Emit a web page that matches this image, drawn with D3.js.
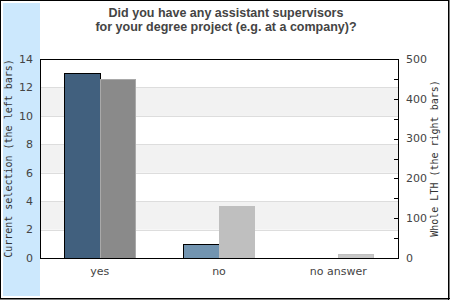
<!DOCTYPE html>
<html>
<head>
<meta charset="utf-8">
<script src="https://cdn.jsdelivr.net/npm/d3@7"></script>
<style>
  body { margin: 0; background: #fff; }
  svg { display: block; }
</style>
</head>
<body>
<svg id="chart" width="450" height="300"></svg>
<script>
// data
const categories = ['yes', 'no', 'no answer']
const currentSelection = [13, 1, 0]      // left bars, left axis
const wholeLTH = [451, 131, 9]           // right bars, right axis
const leftTicks = [0, 2, 4, 6, 8, 10, 12, 14]
const rightTicks = [0, 100, 200, 300, 400, 500]
const rightMinorTicks = [50, 150, 250, 350, 450]
const titleLines = ['Did you have any assistant supervisors', 'for your degree project (e.g. at a company)?']

const svg = d3.select('#chart')
const W = 450, H = 300
const plot = { left: 40, right: 398, top: 59, bottom: 258 }

// outer frame + light blue strip
svg.append('rect').attr('x', 0).attr('y', 0).attr('width', W).attr('height', H).attr('fill', '#fff')
svg.append('rect').attr('x', 3).attr('y', 3).attr('width', 37).attr('height', 293).attr('fill', '#cce8fd')
svg.append('rect').attr('x', 0.5).attr('y', 0.5).attr('width', W - 1.5).attr('height', H - 1.5)
   .attr('fill', 'none').attr('stroke', '#000')
svg.append('line').attr('x1', 448.5).attr('x2', 448.5).attr('y1', 0).attr('y2', H).attr('stroke', '#000')
svg.append('line').attr('x1', 0).attr('x2', W).attr('y1', 298.5).attr('y2', 298.5).attr('stroke', '#000')

const x0 = d3.scaleBand().domain(categories).range([plot.left, plot.right]).padding(0)
const x1 = d3.scaleBand().domain(['cur', 'all']).range([0, x0.bandwidth()]).paddingInner(0).paddingOuter(0.657)
const yL = d3.scaleLinear().domain([0, 14]).range([plot.bottom, plot.top])
const yR = d3.scaleLinear().domain([0, 500]).range([plot.bottom, plot.top])

// alternating bands
const bands = [[2, 4], [6, 8], [10, 12]]
svg.append('g').selectAll('rect').data(bands).join('rect')
   .attr('x', plot.left).attr('width', plot.right - plot.left)
   .attr('y', d => yL(d[1])).attr('height', d => yL(d[0]) - yL(d[1]))
   .attr('fill', '#f2f2f2')
svg.append('g').selectAll('line').data(leftTicks.slice(1, -1)).join('line')
   .attr('x1', plot.left).attr('x2', plot.right)
   .attr('y1', d => Math.round(yL(d)) + 0.5).attr('y2', d => Math.round(yL(d)) + 0.5)
   .attr('stroke', '#dddddd')

// bars
const blue = ['#41607e', '#7294b0', '#7294b0']
const grey = ['#8a8a8a', '#bfbfbf', '#c8c8c8']
const greyStroke = ['#a9a9a9', '#bfbfbf', '#c0c0c0']
const g = svg.append('g')
categories.forEach((c, i) => {
  const v = currentSelection[i]
  if (v > 0) {
    g.append('rect')
     .attr('x', Math.round(x0(c) + x1('cur')) + 0.5)
     .attr('y', Math.round(yL(v)) + 0.5)
     .attr('width', Math.round(x1.bandwidth()))
     .attr('height', Math.round(yL(0)) - Math.round(yL(v)))
     .attr('fill', blue[i]).attr('stroke', '#000')
  }
  const w = wholeLTH[i]
  g.append('rect')
   .attr('x', Math.round(x0(c) + x1('all')) + 0.5)
   .attr('y', Math.round(yR(w)) + 0.5)
   .attr('width', Math.round(x1.bandwidth()) - 1)
   .attr('height', Math.round(yR(0)) - Math.round(yR(w)))
   .attr('fill', grey[i]).attr('stroke', greyStroke[i])
})

// plot frame
svg.append('rect').attr('x', plot.left + 0.5).attr('y', plot.top + 0.5)
   .attr('width', plot.right - plot.left).attr('height', plot.bottom - plot.top)
   .attr('fill', 'none').attr('stroke', '#000')

// left axis labels
svg.append('g').selectAll('text').data(leftTicks).join('text')
   .attr('x', 33).attr('y', d => yL(d)).attr('dy', '0.35em')
   .attr('text-anchor', 'end')
   .attr('font-family', 'DejaVu Sans').attr('font-size', 11).attr('fill', '#444')
   .text(d => d)

// right axis ticks (pointing inward) + labels
svg.append('g').selectAll('line').data(rightTicks.concat(rightMinorTicks)).join('line')
   .attr('x1', plot.right - 4).attr('x2', plot.right + 0.5)
   .attr('y1', d => Math.round(yR(d)) + 0.5).attr('y2', d => Math.round(yR(d)) + 0.5)
   .attr('stroke', '#000')
svg.append('g').selectAll('text').data(rightTicks).join('text')
   .attr('x', 406).attr('y', d => yR(d)).attr('dy', '0.35em')
   .attr('font-family', 'DejaVu Sans').attr('font-size', 11).attr('fill', '#444')
   .text(d => d)

// category labels
svg.append('g').selectAll('text').data(categories).join('text')
   .attr('x', d => x0(d) + x0.bandwidth() / 2).attr('y', 275)
   .attr('text-anchor', 'middle')
   .attr('font-family', 'DejaVu Sans').attr('font-size', 11).attr('fill', '#444')
   .text(d => d)

// axis titles
const midY = (plot.top + plot.bottom) / 2
svg.append('text').attr('transform', `translate(12,${midY}) rotate(-90)`)
   .attr('text-anchor', 'middle')
   .attr('font-family', 'DejaVu Sans Mono').attr('font-size', 10).attr('fill', '#333')
   .text('Current selection (the left bars)')
svg.append('text').attr('transform', `translate(438,${midY}) rotate(-90)`)
   .attr('text-anchor', 'middle')
   .attr('font-family', 'DejaVu Sans Mono').attr('font-size', 10).attr('fill', '#333')
   .text('Whole LTH (the right bars)')

// title
svg.append('g').selectAll('text').data(titleLines).join('text')
   .attr('x', 226).attr('y', (d, i) => 17 + i * 14)
   .attr('text-anchor', 'middle')
   .attr('font-family', 'Liberation Sans, Arial, sans-serif').attr('font-weight', 'bold')
   .attr('font-size', 12.5).attr('fill', '#444')
   .text(d => d)
</script>
</body>
</html>
